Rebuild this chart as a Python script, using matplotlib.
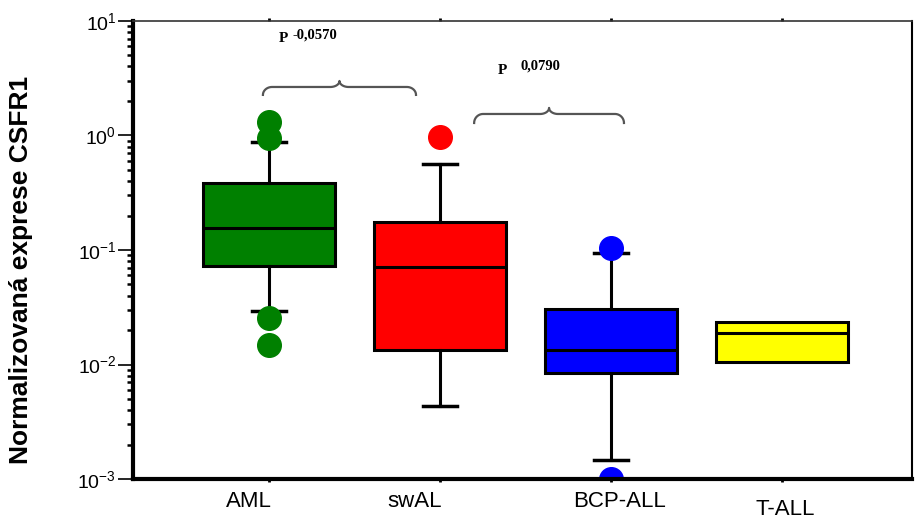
import numpy as np
import matplotlib.pyplot as plt
import matplotlib.transforms as mtransforms

plt.rcParams['font.family'] = ['Liberation Sans', 'DejaVu Sans']
plt.rcParams['mathtext.fontset'] = 'custom'
plt.rcParams['mathtext.rm'] = 'Liberation Sans'
plt.rcParams['mathtext.it'] = 'Liberation Sans'
plt.rcParams['mathtext.bf'] = 'Liberation Sans:bold'

# groups and box statistics
groups = ['AML', 'swAL', 'BCP-ALL', 'T-ALL']
colors = ['#008000', '#ff0000', '#0000ff', '#ffff00']
q1 = [0.073, 0.0134, 0.0085, 0.0106]
med = [0.156, 0.0715, 0.0134, 0.0187]
q3 = [0.387, 0.177, 0.0303, 0.0234]
whislo = [0.0295, 0.00437, 0.00147, 0.0106]
whishi = [0.883, 0.56, 0.0936, 0.0234]
fliers = [[1.31, 0.95, 0.0255, 0.0148], [0.964], [0.105, 0.00101], []]

# p-values between neighbouring groups
p_text = ['-0,0570', '0,0790']

fig = plt.figure(figsize=(9.17, 5.23), dpi=100)
ax = fig.add_axes([0.145, 0.084, 0.8495, 0.876])

pos = np.arange(1, len(groups) + 1)
for i in range(len(groups)):
    st = dict(med=med[i], q1=q1[i], q3=q3[i], whislo=whislo[i], whishi=whishi[i],
              fliers=fliers[i])
    showcaps = whislo[i] != q1[i]
    ax.bxp([st], positions=[pos[i]], widths=0.77, patch_artist=True,
           showcaps=showcaps, capwidths=0.2,
           boxprops=dict(facecolor=colors[i], edgecolor='black', linewidth=2.2),
           medianprops=dict(color='black', linewidth=2.2),
           whiskerprops=dict(color='black', linewidth=2.2),
           capprops=dict(color='black', linewidth=2.5),
           flierprops=dict(marker='o', markerfacecolor=colors[i],
                           markeredgecolor=colors[i], markersize=17))

ax.set_yscale('log')
ax.set_ylim(1e-3, 1e1)
ax.set_xlim(0.205, 4.76)


# curly braces above the compared groups
def brace(x0, x1, base, end, tip):
    r = (x1 - x0) * 0.06
    lb, le, lt = np.log10(base), np.log10(end), np.log10(tip)
    th = np.linspace(0, np.pi / 2, 20)
    xm = (x0 + x1) / 2
    xs = np.concatenate([x0 + r * (1 - np.cos(th)), xm - r + r * np.sin(th)])
    ys = np.concatenate([le + (lb - le) * np.sin(th), lb + (lt - lb) * (1 - np.cos(th))])
    xs = np.concatenate([xs, (2 * xm - xs)[::-1]])
    ys = np.concatenate([ys, ys[::-1]])
    ax.plot(xs, 10 ** ys, color='#555555', linewidth=1.6, clip_on=False)


brace(0.965, 1.86, 2.65, 2.26, 2.99)
brace(2.2, 3.076, 1.54, 1.285, 1.74)

ax.text(1.06, 7.0, 'P', family='Liberation Serif', weight='bold', fontsize=11,
        va='center', ha='left')
ax.text(1.14, 7.6, p_text[0], family='Liberation Serif', weight='bold', fontsize=10.5,
        va='center', ha='left')
ax.text(2.34, 3.7, 'P', family='Liberation Serif', weight='bold', fontsize=11,
        va='center', ha='left')
ax.text(2.47, 4.0, p_text[1], family='Liberation Serif', weight='bold', fontsize=10.5,
        va='center', ha='left')

# category labels, drawn as text so each can sit a little off its tick
ax.set_xticks(pos)
ax.set_xticklabels([])
offs = [(-20, 0), (-25, 0), (9, 0), (3, -8)]
trans = ax.get_xaxis_transform()
for p, g, (dx, dy) in zip(pos, groups, offs):
    t = trans + mtransforms.ScaledTranslation(dx / 100, dy / 100, fig.dpi_scale_trans)
    ax.text(p, -0.025, g, transform=t, ha='center', va='top', fontsize=16)

ax.tick_params(axis='x', direction='out', length=2, width=2, top=True)
ax.tick_params(axis='y', which='major', direction='out', length=11, width=1.2,
               labelsize=14, pad=1)
ax.tick_params(axis='y', which='minor', direction='out', length=4, width=1.8)

ax.set_ylabel('Normalizovaná exprese CSFR1', fontsize=19, fontweight='bold')
ax.yaxis.set_label_coords(-0.128, 0.456)

ax.spines['left'].set_linewidth(3)
ax.spines['bottom'].set_linewidth(3)
ax.spines['top'].set_linewidth(1.2)
ax.spines['top'].set_color('#333333')
ax.spines['right'].set_linewidth(1.5)

fig.savefig('out.png', dpi=100)
